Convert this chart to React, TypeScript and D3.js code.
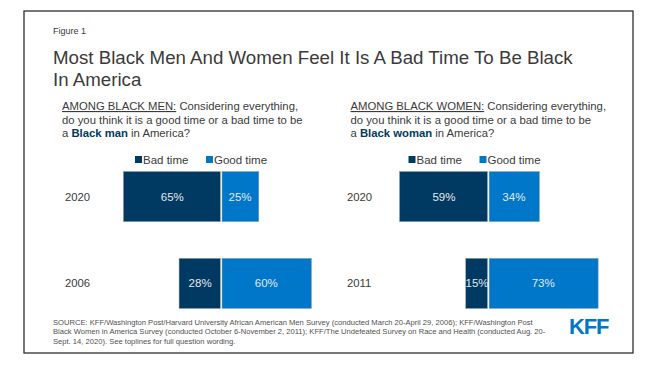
import React from "react";
import * as d3 from "d3";

const menYears = ["2020", "2006"];
const menBad = [65, 28];
const menGood = [25, 60];

const womenYears = ["2020", "2011"];
const womenBad = [59, 15];
const womenGood = [34, 73];

const seriesNames = ["Bad time", "Good time"];

const sourceLines = [
  "SOURCE: KFF/Washington Post/Harvard University African American Men Survey (conducted March 20-April 29, 2006); KFF/Washington Post",
  "Black Women in America Survey (conducted October 6-November 2, 2011); KFF/The Undefeated Survey on Race and Health (conducted Aug. 20-",
  "Sept. 14, 2020). See toplines for full question wording.",
];

const DARK = "#003a63";
const BLUE = "#0077c8";
const TEXT = "#3b3b3b";
const FONT = "'Liberation Sans', Arial, sans-serif";

type PanelProps = {
  years: string[];
  bad: number[];
  good: number[];
  center: number;
  qx: number;
  yearX: number;
  legendX: number;
  group: string;
  noun: string;
};

function Panel({ years, bad, good, center, qx, yearX, legendX, group, noun }: PanelProps) {
  const x = d3.scaleLinear().domain([-100, 100]).range([center - 150.5, center + 150.5]);
  const y = d3.scaleBand<string>().domain(years).range([171.5, 308.5]).paddingInner(0.422).paddingOuter(0);
  const gap = 0.8;
  return (
    <g>
      <text x={qx} y={110} fontSize={11.3} fill={TEXT} fontFamily={FONT}>
        <tspan textDecoration="underline">{`AMONG BLACK ${group}:`}</tspan>
        <tspan> Considering everything,</tspan>
      </text>
      <text x={qx} y={123.7} fontSize={11.3} fill={TEXT} fontFamily={FONT}>
        do you think it is a good time or a bad time to be
      </text>
      <text x={qx} y={137.4} fontSize={11.3} fill={TEXT} fontFamily={FONT}>
        <tspan>a </tspan>
        <tspan fontWeight="bold" fill={DARK}>{`Black ${noun}`}</tspan>
        <tspan> in America?</tspan>
      </text>
      {/* legend */}
      <g fontFamily={FONT} fontSize={11.5} fill={TEXT}>
        <rect x={legendX} y={156} width={7} height={7} fill={DARK} />
        <text x={legendX + 8} y={163.5}>{seriesNames[0]}</text>
        <rect x={legendX + 71} y={156} width={7} height={7} fill={BLUE} />
        <text x={legendX + 79} y={163.5}>{seriesNames[1]}</text>
      </g>
      {years.map((yr, i) => {
        const y0 = y(yr) as number;
        const bw = y.bandwidth();
        const xb = x(-bad[i]);
        const xg = x(good[i]);
        return (
          <g key={yr}>
            <text x={yearX} y={y0 + bw / 2 + 4} fontSize={11.3} fill={TEXT} fontFamily={FONT}>
              {yr}
            </text>
            <rect x={xb} y={y0} width={x(0) - gap - xb} height={bw} fill={DARK} stroke="#9aa4ad" strokeWidth={0.5} />
            <rect x={x(0) + gap} y={y0} width={xg - x(0) - gap} height={bw} fill={BLUE} stroke="#9aa4ad" strokeWidth={0.5} />
            <text x={(xb + x(0)) / 2} y={y0 + bw / 2 + 4} textAnchor="middle" fontSize={11.5} fill="#e4e8ec" fontFamily={FONT}>
              {`${bad[i]}%`}
            </text>
            <text x={(x(0) + xg) / 2} y={y0 + bw / 2 + 4} textAnchor="middle" fontSize={11.5} fill="#e4e8ec" fontFamily={FONT}>
              {`${good[i]}%`}
            </text>
          </g>
        );
      })}
    </g>
  );
}

export default function App() {
  return (
    <div style={{ position: "absolute", left: 0, top: 0 }}>
      <svg width={653} height={370} style={{ display: "block", background: "#fff" }}>
        <rect x={24} y={11} width={609} height={342} fill="#fff" stroke="#2e2e2e" strokeWidth={1.3} />
        <text x={53} y={34} fontSize={9} fill={TEXT} fontFamily={FONT}>Figure 1</text>
        <text x={53} y={64} fontSize={18.7} fill={TEXT} fontFamily={FONT}>
          Most Black Men And Women Feel It Is A Bad Time To Be Black
        </text>
        <text x={53} y={86} fontSize={18.7} fill={TEXT} fontFamily={FONT}>In America</text>
        <Panel years={menYears} bad={menBad} good={menGood} center={221.2} qx={62} yearX={65} legendX={135} group="MEN" noun="man" />
        <Panel years={womenYears} bad={womenBad} good={womenGood} center={488.3} qx={350.5} yearX={347} legendX={408.5} group="WOMEN" noun="woman" />
        {sourceLines.map((l, i) => (
          <text key={i} x={53} y={324.5 + i * 9.5} fontSize={7.6} fill="#505050" fontFamily={FONT}>
            {l}
          </text>
        ))}
        <text x={569} y={333.5} fontSize={22} fontWeight="bold" fill={BLUE} fontFamily={FONT} letterSpacing={-1.2}>
          KFF
        </text>
      </svg>
    </div>
  );
}
